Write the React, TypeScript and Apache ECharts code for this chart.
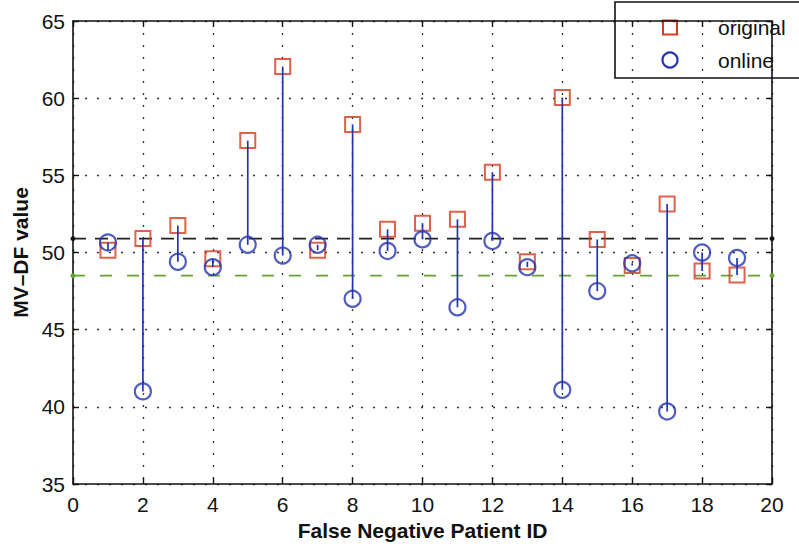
import React, { useEffect, useRef } from "react";
import * as echarts from "echarts";

const patientIds = [1, 2, 3, 4, 5, 6, 7, 8, 9, 10, 11, 12, 13, 14, 15, 16, 17, 18, 19];
const originalValues = [50.15, 50.9, 51.75, 49.6, 57.25, 62.05, 50.15, 58.3, 51.5, 51.9, 52.15, 55.2, 49.4, 60.05, 50.85, 49.15, 53.15, 48.8, 48.55];
const onlineValues = [50.65, 41.0, 49.4, 49.05, 50.5, 49.8, 50.5, 47.0, 50.1, 50.85, 46.45, 50.75, 49.05, 41.1, 47.5, 49.3, 39.7, 50.0, 49.65];
const blackRef = 50.9;
const greenRef = 48.5;
const xTicks = { min: 0, max: 20, interval: 2 };
const yTicks = { min: 35, max: 65, interval: 5 };
const legendNames = ["original", "online"];
const xTitle = "False Negative Patient ID";
const yTitle = "MV\u2013DF value";

const RED = "#d63b1e";
const BLUE = "#2434b0";
const GREEN = "#62a332";
const FONT = "'Liberation Sans', Arial, Helvetica, sans-serif";

export default function App() {
  const ref = useRef<HTMLDivElement>(null);
  useEffect(() => {
    if (!ref.current) return;
    const chart = echarts.init(ref.current, undefined, { renderer: "svg" });
    const gridLine = { show: true, lineStyle: { color: "#333", type: [2, 10] as any, width: 1.3 } };
    const axisLineStyle = { lineStyle: { color: "#111", width: 1.6 } };
    const tick = { show: true, inside: true, length: 6, lineStyle: { color: "#111", width: 1.4 } };
    const option: any = {
      animation: false,
      backgroundColor: "#fff",
      textStyle: { fontFamily: FONT },
      grid: { left: 73, right: 27, top: 21, bottom: 59, containLabel: false },
      xAxis: [
        {
          type: "value",
          min: xTicks.min,
          max: xTicks.max,
          interval: xTicks.interval,
          position: "bottom",
          name: xTitle,
          nameLocation: "middle",
          nameGap: 36,
          nameTextStyle: { fontFamily: FONT, fontSize: 21, fontWeight: "bold", color: "#111" },
          axisLine: { show: true, onZero: false, ...axisLineStyle },
          axisTick: tick,
          axisLabel: { fontFamily: FONT, fontSize: 21, color: "#111", margin: 10 },
          splitLine: gridLine,
        },
        {
          type: "value",
          min: xTicks.min,
          max: xTicks.max,
          interval: xTicks.interval,
          position: "top",
          axisLine: { show: true, onZero: false, ...axisLineStyle },
          axisTick: tick,
          axisLabel: { show: false },
          splitLine: { show: false },
        },
      ],
      yAxis: [
        {
          type: "value",
          min: yTicks.min,
          max: yTicks.max,
          interval: yTicks.interval,
          position: "left",
          name: yTitle,
          nameLocation: "middle",
          nameGap: 41,
          nameRotate: 90,
          nameTextStyle: { fontFamily: FONT, fontSize: 21, fontWeight: "bold", color: "#111" },
          axisLine: { show: true, onZero: false, ...axisLineStyle },
          axisTick: tick,
          axisLabel: { fontFamily: FONT, fontSize: 21, color: "#111", margin: 8 },
          splitLine: gridLine,
        },
        {
          type: "value",
          min: yTicks.min,
          max: yTicks.max,
          interval: yTicks.interval,
          position: "right",
          axisLine: { show: true, onZero: false, ...axisLineStyle },
          axisTick: tick,
          axisLabel: { show: false },
          splitLine: { show: false },
        },
      ],
      series: [
        {
          type: "line",
          name: "ref-black",
          data: [[xTicks.min, blackRef], [xTicks.max, blackRef]],
          symbol: "circle",
          symbolSize: 5,
          showSymbol: true,
          itemStyle: { color: "#111" },
          lineStyle: { color: "#222", width: 1.8, type: [13, 9] },
          z: 1,
          silent: true,
        },
        {
          type: "line",
          name: "ref-green",
          data: [[xTicks.min, greenRef], [xTicks.max, greenRef]],
          symbol: "circle",
          symbolSize: 5,
          showSymbol: true,
          itemStyle: { color: GREEN },
          lineStyle: { color: GREEN, width: 1.8, type: [12, 15] },
          z: 1,
          silent: true,
        },
        {
          type: "scatter",
          name: legendNames[0],
          data: patientIds.map((id, i) => [id, originalValues[i]]),
          symbol: "rect",
          symbolSize: 15,
          itemStyle: { color: "rgba(255,255,255,0)", borderColor: RED, borderWidth: 2 },
          z: 2,
        },
        {
          type: "custom",
          name: "stems",
          data: patientIds.map((id, i) => [id, originalValues[i], onlineValues[i]]),
          encode: { x: 0, y: [1, 2] },
          renderItem: (params: any, api: any) => {
            const p1 = api.coord([api.value(0), api.value(1)]);
            const p2 = api.coord([api.value(0), api.value(2)]);
            return {
              type: "line",
              shape: { x1: p1[0], y1: p1[1], x2: p2[0], y2: p2[1] },
              style: { stroke: BLUE, lineWidth: 1.7 },
            };
          },
          z: 3,
        },
        {
          type: "scatter",
          name: legendNames[1],
          data: patientIds.map((id, i) => [id, onlineValues[i]]),
          symbol: "circle",
          symbolSize: 16,
          itemStyle: { color: "rgba(255,255,255,0)", borderColor: BLUE, borderWidth: 2.2 },
          z: 4,
        },
      ],
      graphic: [
        {
          type: "group",
          z: 100,
          children: [
            {
              type: "rect",
              shape: { x: 615, y: 2, width: 220, height: 76 },
              style: { fill: "#fff", stroke: "#111", lineWidth: 1.6 },
            },
            {
              type: "rect",
              shape: { x: 663, y: 20.5, width: 14, height: 14 },
              style: { fill: "none", stroke: RED, lineWidth: 2 },
            },
            {
              type: "circle",
              shape: { cx: 670, cy: 60, r: 7.5 },
              style: { fill: "none", stroke: BLUE, lineWidth: 2.2 },
            },
            {
              type: "text",
              x: 718,
              y: 27.5,
              style: { text: legendNames[0], font: `21px ${FONT}`, fill: "#111", verticalAlign: "middle", align: "left" },
            },
            {
              type: "text",
              x: 718,
              y: 60,
              style: { text: legendNames[1], font: `21px ${FONT}`, fill: "#111", verticalAlign: "middle", align: "left" },
            },
          ],
        },
      ],
    };
    chart.setOption(option);
    return () => chart.dispose();
  }, []);
  return <div ref={ref} style={{ width: 799, height: 546, position: "absolute", left: 0, top: 0 }} />;
}
